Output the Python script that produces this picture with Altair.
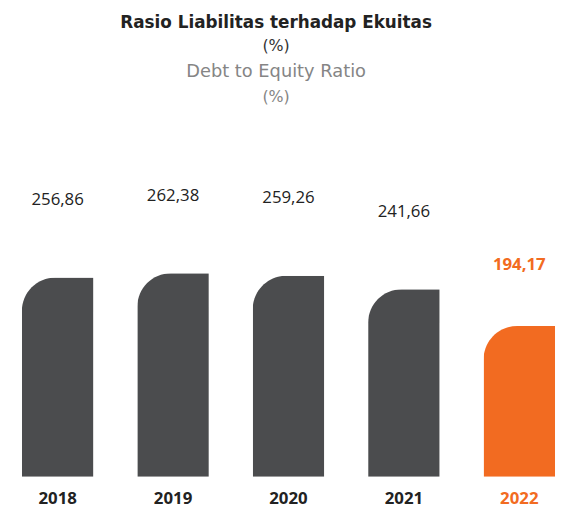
import altair as alt
import pandas as pd

years = ["2018", "2019", "2020", "2021", "2022"]
values = [256.86, 262.38, 259.26, 241.66, 194.17]
labels = ["256,86", "262,38", "259,26", "241,66", "194,17"]
highlight = [False, False, False, False, True]

DARK = "#4b4c4e"
ORANGE = "#f26b21"

df = pd.DataFrame({"year": years, "value": values, "label": labels, "hl": highlight})

x = alt.X("year:N", sort=years, title=None,
          scale=alt.Scale(paddingInner=0.38, paddingOuter=0.09, align=0.667, round=False),
          axis=alt.Axis(labelAngle=0, domain=False, ticks=False, labelPadding=14,
                        labelFont="Open Sans", labelFontSize=17, labelFontWeight="bold",
                        labelColor={"condition": {"test": "datum.value == '2022'", "value": ORANGE},
                                    "value": "#222222"}))
y = alt.Y("value:Q", title=None, scale=alt.Scale(domain=[0, 601], nice=False),
          axis=None)

color = alt.condition("datum.hl", alt.value(ORANGE), alt.value(DARK))

base = alt.Chart(df)
bars = base.mark_bar(cornerRadiusTopLeft=34).encode(x=x, y=y, color=color)
text_n = base.transform_filter("!datum.hl").mark_text(
    dy=-78, baseline="middle", font="Open Sans", fontSize=17, color="#222222"
).encode(x=x, y=y, text="label:N")
text_h = base.transform_filter("datum.hl").mark_text(
    dy=-62, baseline="middle", font="Open Sans", fontSize=17, fontWeight="bold", color=ORANGE
).encode(x=x, y=y, text="label:N")

title_lines = [
    ("Rasio Liabilitas terhadap Ekuitas", 12, "bold", "#222222", 17),
    ("(%)", 36, "normal", "#333333", 16),
    ("Debt to Equity Ratio", 62, "normal", "#858585", 18),
    ("(%)", 87, "normal", "#858585", 16),
]
tl = []
for t, yy, w, c, fs in title_lines:
    tl.append(alt.Chart(pd.DataFrame({"t": [t]})).mark_text(
        font="DejaVu Sans", fontSize=fs, fontWeight=w, color=c, baseline="middle", align="center"
    ).encode(x=alt.value(271), y=alt.value(yy), text="t:N"))

chart = alt.layer(bars, text_n, text_h, *tl).properties(
    width=560, height=471,
    autosize=alt.AutoSizeParams(type="none"),
    padding={"left": 0, "top": 0, "right": 0, "bottom": 30},
).configure_view(stroke=None)

chart.save("out.html", embed_options={"renderer": "svg", "actions": False})
